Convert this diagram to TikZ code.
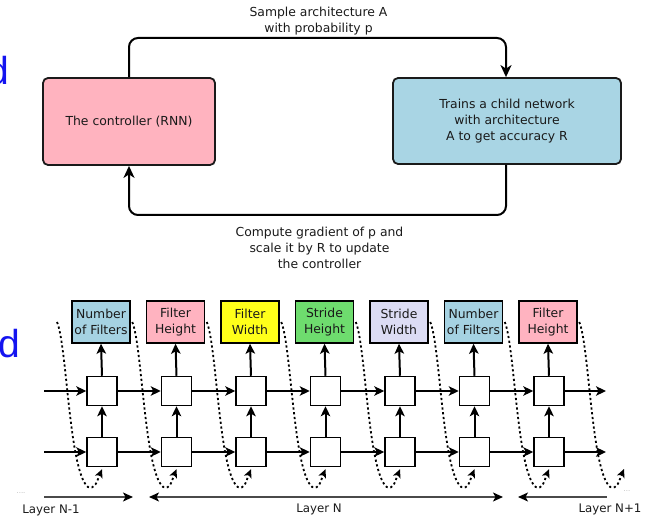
\documentclass[tikz,border=0pt]{standalone}
\usepackage{fontspec}
\setmainfont{DejaVu Sans}
\newfontfamily\slidefont{Liberation Sans}
\usetikzlibrary{arrows.meta,calc}

\definecolor{ink}{HTML}{1A1A1A}
\definecolor{ctrlpink}{HTML}{FFB3BF}
\definecolor{childblue}{HTML}{A9D5E4}
\definecolor{hpblue}{HTML}{A5D2E2}
\definecolor{hppink}{HTML}{FFB3C0}
\definecolor{hpyellow}{HTML}{FFFF1A}
\definecolor{hpgreen}{HTML}{6EDC6E}
\definecolor{hplav}{HTML}{DCDCF4}
\definecolor{slideblue}{HTML}{1414F0}
\definecolor{layergrey}{HTML}{4A4A4A}
\definecolor{dotgrey}{HTML}{B8B8B8}

\tikzset{ltip/.tip={Stealth[length=10pt,width=9pt,inset=2.5pt,black]}}

\begin{document}
\begin{tikzpicture}[x=1pt,y=-1pt,
  txt/.style={text=ink, align=center, font=\fontsize{12.4}{15.8}\selectfont},
  bigbox/.style={txt, draw=ink, line width=1.8pt, rounded corners=5pt, inner sep=0pt},
  flow/.style={draw=black, line width=2pt, rounded corners=9pt,
    -{Stealth[length=12pt,width=11pt,inset=3.5pt]}},
  hpbox/.style={draw=black, line width=1.5pt, minimum width=58pt, minimum height=42pt,
    inner sep=1pt, align=center, text=ink, font=\fontsize{12.4}{16.5}\selectfont},
  cell/.style={draw=black, line width=1.5pt, fill=white, minimum width=30pt,
    minimum height=29pt, inner sep=0pt},
  hflow/.style={line width=1.3pt, -{Stealth[length=10pt,width=9.5pt,inset=2.5pt]}},
  vflow/.style={line width=2pt, -{Stealth[length=10pt,width=9.5pt,inset=2.5pt]}},
  feed/.style={line width=1.8pt, dash pattern=on 2.2pt off 2.6pt,
    -{Stealth[length=8.5pt,width=8pt,inset=2.2pt]}},
  layer/.style={draw=layergrey, line width=1.4pt},
  layerlbl/.style={text=ink, font=\fontsize{11.8}{14}\selectfont, inner sep=0pt},
  dots/.style={text=dotgrey, font=\fontsize{7}{7}\selectfont, inner sep=0pt},
  slide/.style={text=slideblue, font=\slidefont\fontsize{39}{39}\selectfont,
    inner sep=0pt, anchor=base east}
]
\useasboundingbox (0,0) rectangle (649,516);

% cut-off letters of the surrounding slide
\node[slide] (sl1) at (9,85) {d};
\node[slide] (sl2) at (20,358) {d};

% ---------- controller loop ----------
\node[bigbox, fill=ctrlpink, minimum width=172pt, minimum height=87pt] (ctrl) at (129,121.5)
  {The controller (RNN)};
\node[bigbox, fill=childblue, minimum width=228pt, minimum height=86pt] (child) at (507,121)
  {Trains a child network\\with architecture\\A to get accuracy R};

\coordinate (tl) at (129,38);
\coordinate (tr) at (506,38);
\coordinate (bl) at (129,215);
\coordinate (br) at (506,215);

\draw[flow] (ctrl.north -| tl) -- (tl) -- (tr) -- (child.north -| tr);
\draw[flow] (child.south -| br) -- (br) -- (bl) -- (ctrl.south -| bl);

\node[txt] (sample) at (318.5,21) {Sample architecture A\\with probability p};
\node[txt] (grad) at (319.5,248) {Compute gradient of p and\\scale it by R to update\\the controller};

% ---------- unrolled controller ----------
\node[hpbox, fill=hpblue]   (hp0) at (101,322)   {Number\\of Filters};
\node[hpbox, fill=hppink]   (hp1) at (175.5,322) {Filter\\Height};
\node[hpbox, fill=hpyellow] (hp2) at (250,322)   {Filter\\Width};
\node[hpbox, fill=hpgreen]  (hp3) at (324.5,322) {Stride\\Height};
\node[hpbox, fill=hplav]    (hp4) at (399,322)   {Stride\\Width};
\node[hpbox, fill=hpblue]   (hp5) at (473.5,322) {Number\\of Filters};
\node[hpbox, fill=hppink]   (hp6) at (548,322)   {Filter\\Height};

\foreach \i in {0,...,6} {
  \node[cell] (up\i) at ($(hp\i.center)+(1,69)$) {};
  \node[cell] (lo\i) at ($(hp\i.center)+(1,130)$) {};
}

% feedback of each sampled value into the next step
\foreach \i in {0,...,6} {
  \coordinate (fs\i) at ($(hp\i.east)+(1.5,0)$);
  \coordinate (ft\i) at ($(lo\i.south)+(0,2)$);
}
\coordinate (fsin) at (57,322);
\coordinate (ftout) at (624,469);
\foreach \s/\t in {fsin/ft0, fs0/ft1, fs1/ft2, fs2/ft3, fs3/ft4, fs4/ft5, fs5/ft6, fs6/ftout}
  \draw[feed] (\s) .. controls ($(\s)+(10,23)$) and ($(\s)+(12,150)$) .. ($(\s)+(31,165)$)
    .. controls ($(\s)+(38,168)$) and ($(\t)+(-5,12)$) .. (\t);

% recurrent connections
\coordinate (rowin1) at (44,391);
\coordinate (rowin2) at (44,452);
\coordinate (rowout1) at (606,391);
\coordinate (rowout2) at (606,452);
\draw[hflow] (rowin1) -- (up0.west);
\draw[hflow] (rowin2) -- (lo0.west);
\foreach \i [evaluate=\i as \j using int(\i+1)] in {0,...,5} {
  \draw[hflow] (up\i.east) -- (up\j.west);
  \draw[hflow] (lo\i.east) -- (lo\j.west);
}
\draw[hflow] (up6.east) -- (rowout1);
\draw[hflow] (lo6.east) -- (rowout2);

% stacked connections and outputs
\foreach \i in {0,...,6} {
  \draw[vflow] (lo\i.north) -- (up\i.south);
  \draw[vflow] (up\i.north) -- (hp\i.south);
}

% ---------- layer spans ----------
\coordinate (la) at (44,497);
\coordinate (lb) at (133,497);
\coordinate (lc) at (149,497);
\coordinate (ld) at (503,497);
\coordinate (le) at (518,497);
\coordinate (lf) at (607,497);
\draw[layer, -{ltip}] (la) -- (lb);
\draw[layer, {ltip}-{ltip}] (lc) -- (ld);
\draw[layer, {ltip}-] (le) -- (lf);

\node[dots] (dl) at (21,493) {....};
\node[dots] (dr) at (627,491) {...};
\node[layerlbl] (ln1) at (51,510) {Layer N-1};
\node[layerlbl] (ln) at (319,509) {Layer N};
\node[layerlbl] (ln2) at (610,509) {Layer N+1};
\end{tikzpicture}
\end{document}
